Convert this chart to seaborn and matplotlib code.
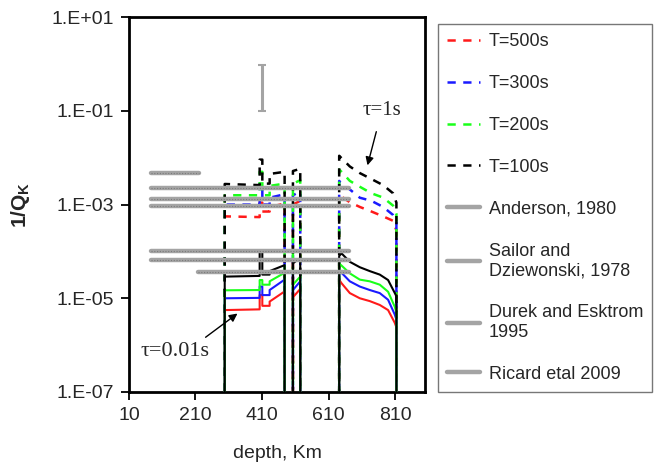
import numpy as np
import pandas as pd
import matplotlib
matplotlib.use('Agg')
import matplotlib.pyplot as plt
import seaborn as sns

# depth grid (km) shared by the tau=0.01s (solid) curves
solid_depth = [298, 298, 403, 403, 411, 411, 433, 433, 478, 478, 503, 503, 525, 525,
               642, 642, 649, 674, 704, 734, 764, 789, 809, 814, 814]
# 1e-8 points are below the axis -> vertical drops to the bottom
solid_black = [1e-8, 2.9e-5, 3.0e-5, 1.0e-4, 1.0e-4, 3.2e-5, 3.2e-5, 3.8e-5, 5.1e-5, 1e-8, 1e-8, 5.6e-5, 7.2e-5, 1e-8,
               1e-8, 8.0e-5, 9.1e-5, 6.0e-5, 4.6e-5, 3.8e-5, 3.2e-5, 2.45e-5, 1.3e-5, 1.1e-5, 1e-8]
solid_green = [1e-8, 1.48e-5, 1.5e-5, 2.45e-5, 2.45e-5, 1.95e-5, 1.95e-5, 2.3e-5, 3.5e-5, 1e-8, 1e-8, 1.95e-5, 2.9e-5, 1e-8,
               1e-8, 5.5e-5, 5.0e-5, 3.4e-5, 2.5e-5, 2.3e-5, 1.95e-5, 1.38e-5, 6.6e-6, 5.0e-6, 1e-8]
solid_blue = [1e-8, 1.0e-5, 1.02e-5, 1.78e-5, 1.78e-5, 1.17e-5, 1.17e-5, 1.5e-5, 2.5e-5, 1e-8, 1e-8, 1.5e-5, 2.3e-5, 1e-8,
              1e-8, 4.0e-5, 3.5e-5, 2.3e-5, 1.78e-5, 1.5e-5, 1.29e-5, 9.3e-6, 4.5e-6, 3.5e-6, 1e-8]
solid_red = [1e-8, 5.6e-6, 5.8e-6, 1.17e-5, 1.17e-5, 6.9e-6, 6.9e-6, 8.5e-6, 1.4e-5, 1e-8, 1e-8, 1.05e-5, 1.58e-5, 1e-8,
             1e-8, 2.5e-5, 2.1e-5, 1.29e-5, 1.0e-5, 8.7e-6, 7.2e-6, 5.6e-6, 3.0e-6, 2.4e-6, 1e-8]

# tau=1s (dashed) curves, one per period T
dashed_depth = [298, 298, 403, 403, 411, 411, 433, 433, 478, 478, 503, 503, 525, 525,
                642, 642, 649, 674, 704, 739, 774, 804, 814, 814]
t100 = [1e-8, 2.75e-3, 2.6e-3, 9.1e-3, 9.1e-3, 2.8e-3, 2.8e-3, 4.5e-3, 5.0e-3, 1e-8, 1e-8, 5.2e-3, 5.8e-3, 1e-8,
        1e-8, 1.1e-2, 9.8e-3, 6.5e-3, 4.7e-3, 3.5e-3, 2.6e-3, 1.74e-3, 1.1e-3, 1e-8]
t200 = [1e-8, 1.58e-3, 1.58e-3, 5.0e-3, 5.0e-3, 1.58e-3, 1.58e-3, 2.5e-3, 2.8e-3, 1e-8, 1e-8, 2.8e-3, 3.3e-3, 1e-8,
        1e-8, 5.6e-3, 5.0e-3, 3.2e-3, 2.4e-3, 1.74e-3, 1.41e-3, 9.5e-4, 6.3e-4, 1e-8]
t300 = [1e-8, 1.0e-3, 1.0e-3, 2.8e-3, 2.8e-3, 1.0e-3, 1.0e-3, 1.4e-3, 1.66e-3, 1e-8, 1e-8, 1.58e-3, 1.9e-3, 1e-8,
        1e-8, 3.2e-3, 2.8e-3, 2.1e-3, 1.4e-3, 1.2e-3, 8.9e-4, 6.0e-4, 4.5e-4, 1e-8]
t500 = [1e-8, 5.6e-4, 5.4e-4, 1.1e-3, 1.1e-3, 7.1e-4, 7.1e-4, 8.9e-4, 1.05e-3, 1e-8, 1e-8, 1.0e-3, 1.2e-3, 1e-8,
        1e-8, 1.66e-3, 1.48e-3, 1.12e-3, 8.9e-4, 7.1e-4, 5.6e-4, 4.5e-4, 2.8e-4, 1e-8]

period_labels = ['T=500s', 'T=300s', 'T=200s', 'T=100s']
period_colors = ['#ff1a1a', '#1a1aff', '#1aff1a', '#000000']

# published estimates (grey bars)
ref_labels = ['Anderson, 1980', 'Sailor and\nDziewonski, 1978', 'Durek and Esktrom\n1995', 'Ricard etal 2009']
ref_source = [0, 0, 1, 1, 2, 2, 3]
ref_start = [77, 77, 77, 77, 77, 77, 217]
ref_end = [222, 672, 672, 672, 672, 672, 672]
ref_value = [4.7e-3, 2.3e-3, 1.3e-3, 9.3e-4, 1.0e-4, 6.6e-5, 3.6e-5]
err_depth = 410
err_low, err_high = 0.1, 0.95

sns.set_theme(style='white')
plt.rcParams['font.family'] = ['Liberation Sans', 'DejaVu Sans']
plt.rcParams['mathtext.fontset'] = 'custom'
plt.rcParams['mathtext.rm'] = 'Liberation Sans'
plt.rcParams['mathtext.bf'] = 'Liberation Sans:bold'

fig = plt.figure(figsize=(6.61, 4.68), dpi=100)
ax = fig.add_axes([0.195, 0.1624, 0.448, 0.801])

dash = (0, (3.3, 3.0))
for vals, lab, col in zip([t500, t300, t200, t100], period_labels, period_colors):
    sns.lineplot(x=dashed_depth, y=vals, sort=False, estimator=None, ax=ax,
                 color=col, lw=1.8, linestyle=dash, label=lab, zorder=2)

for vals, col in zip([solid_red, solid_blue, solid_green, solid_black], period_colors):
    sns.lineplot(x=solid_depth, y=vals, sort=False, estimator=None, ax=ax,
                 color=col, lw=1.5, zorder=3)

grey = '#a4a4a4'
done = set()
for s, e, v, src in zip(ref_start, ref_end, ref_value, ref_source):
    lab = ref_labels[src] if src not in done else None
    done.add(src)
    sns.lineplot(x=[s, e], y=[v, v], ax=ax, color=grey, lw=3.2, label=lab, zorder=4)
    ax.plot([s, e], [v, v], color='#7a7a7a', lw=0.8, ls=(0, (1, 1.5)), zorder=5)

ax.errorbar([err_depth], [np.sqrt(err_low * err_high)],
            yerr=[[np.sqrt(err_low * err_high) - err_low], [err_high - np.sqrt(err_low * err_high)]],
            fmt='none', ecolor=grey, elinewidth=2.2, capsize=3, capthick=1.5, zorder=4)

ax.set_yscale('log')
ax.set_ylim(1e-7, 10)
ax.set_xlim(10, 900)
ax.set_yticks([1e1, 1e-1, 1e-3, 1e-5, 1e-7])
ax.set_yticklabels(['1.E+01', '1.E-01', '1.E-03', '1.E-05', '1.E-07'])
ax.yaxis.set_minor_locator(matplotlib.ticker.NullLocator())
ax.set_xticks([10, 210, 410, 610, 810])
ax.tick_params(axis='both', which='major', direction='out', length=6, width=1.3,
               labelsize=14, left=True, bottom=True, color='black', pad=5)
for sp in ax.spines.values():
    sp.set_color('black')
    sp.set_linewidth(2)

ax.set_xlabel('depth, Km', fontsize=14, labelpad=15)
ax.set_ylabel(r'$\mathbf{1/Q_K}$', fontsize=15, labelpad=14)

ax.annotate('τ=1s', xy=(725, 10**-2.22), xytext=(770, 1e-1), textcoords='data',
            ha='center', va='center', fontsize=15, family='Liberation Serif',
            arrowprops=dict(arrowstyle='-|>', color='black', lw=1.0, mutation_scale=12, shrinkA=6))
ax.annotate('τ=0.01s', xy=(343, 10**-5.29), xytext=(148, 10**-6.14), textcoords='data',
            ha='center', va='center', fontsize=16, family='Liberation Serif',
            arrowprops=dict(arrowstyle='-|>', color='black', lw=1.0, mutation_scale=12,
                            relpos=(0.85, 1.0), shrinkA=2))

handles, labels = ax.get_legend_handles_labels()
if ax.get_legend() is not None:
    ax.get_legend().remove()
leg = fig.legend(handles, labels, loc='upper left', bbox_to_anchor=(0.6626, 0.9487),
                 frameon=True, fancybox=False, edgecolor='#555555', fontsize=13,
                 labelspacing=1.38, handlelength=1.8, handletextpad=0.5, borderpad=0.5,
                 borderaxespad=0)
leg.get_frame().set_linewidth(1.0)

fig.savefig('out.png', dpi=100)
